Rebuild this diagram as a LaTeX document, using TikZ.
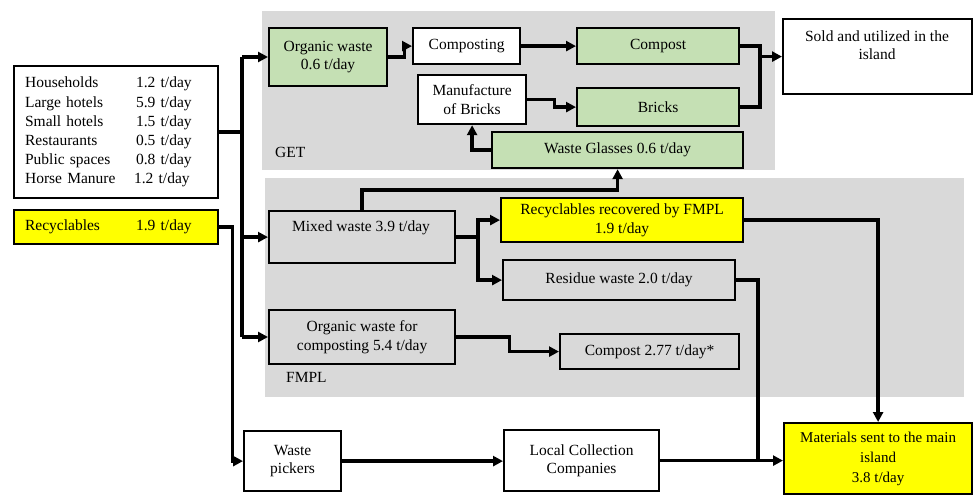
\documentclass[tikz,border=0pt]{standalone}
\usepackage{fontspec}
\setmainfont{Liberation Serif}
\usetikzlibrary{arrows.meta}
\definecolor{grn}{HTML}{C5E0B4}
\definecolor{ylw}{HTML}{FFFF00}
\definecolor{gry}{HTML}{D9D9D9}
\begin{document}
\begin{tikzpicture}[x=1pt,y=-1pt,
  font=\fontsize{15.5}{18.5}\selectfont,
  box/.style={draw, line width=2.2pt, inner sep=2pt, align=center, anchor=north west},
  region/.style={fill=gry, draw=none, inner sep=0pt, anchor=north west},
  ln/.style={line width=3.3pt},
  arr/.style={ln, -{Triangle[length=10pt,width=10pt]}},
  txt/.style={inner sep=0pt, align=center}]
\useasboundingbox (0,0) rectangle (973,495);
% regions
\node[region, minimum width=513pt, minimum height=159pt] (getr) at (262,11) {};
\node[region, minimum width=699pt, minimum height=219pt] (fmplr) at (265,178) {};
\node[txt, anchor=west] (getl) at (275,152) {GET};
\node[txt, anchor=west] (fmpll) at (286,377) {FMPL};
% sources
\node[box, fill=white, minimum height=132pt, text width=182pt, inner xsep=11pt, align=left,
  font=\fontsize{15.5}{19.2}\selectfont] (src) at (13,65)
  {\makebox[111pt][l]{Households}1.2 t/day\\
   \makebox[111pt][l]{Large hotels}5.9 t/day\\
   \makebox[111pt][l]{Small hotels}1.5 t/day\\
   \makebox[111pt][l]{Restaurants}0.5 t/day\\
   \makebox[111pt][l]{Public spaces}0.8 t/day\\
   \makebox[109pt][l]{Horse Manure}1.2 t/day};
\node[box, fill=ylw, minimum height=34pt, text width=182pt, inner xsep=11pt, align=left] (rec) at (13,209)
  {\makebox[111pt][l]{Recyclables}1.9 t/day};
% GET boxes
\node[box, fill=grn, minimum width=118pt, minimum height=58pt] (orgG) at (268,27) {Organic waste\\0.6 t/day};
\node[box, fill=white, minimum width=107pt, minimum height=36pt] (comp) at (412,27) {Composting};
\node[box, fill=grn, minimum width=162pt, minimum height=36pt] (compost) at (576,27) {Compost};
\node[box, fill=white, minimum width=108pt, minimum height=49pt] (man) at (417,74) {Manufacture\\of Bricks};
\node[box, fill=grn, minimum width=162pt, minimum height=38pt] (bricks) at (576,87) {Bricks};
\node[box, fill=grn, minimum width=251pt, minimum height=36pt] (glass) at (491,131) {Waste Glasses 0.6 t/day};
\node[box, fill=white, minimum width=189pt, minimum height=75pt] (sold) at (782,18) {};
\node[txt] (soldt) at (877,45) {Sold and utilized in the\\island};
% FMPL boxes
\node[box, minimum width=186pt, minimum height=52pt] (mixed) at (268,210) {};
\node[txt] (mixedt) at (361,228) {Mixed waste 3.9 t/day};
\node[box, fill=ylw, minimum width=242pt, minimum height=44pt] (rrec) at (500,197) {Recyclables recovered by FMPL\\1.9 t/day};
\node[box, minimum width=232pt, minimum height=40pt] (res) at (502,259) {Residue waste 2.0 t/day};
\node[box, minimum width=186pt, minimum height=54pt] (orgF) at (268,309) {Organic waste for\\composting 5.4 t/day};
\node[box, minimum width=179pt, minimum height=35pt] (cmp2) at (559,333) {Compost 2.77 t/day*};
% bottom
\node[box, fill=white, minimum width=97pt, minimum height=60pt] (wp) at (243,430) {Waste\\pickers};
\node[box, fill=white, minimum width=155pt, minimum height=61pt] (lcc) at (503,429) {Local Collection\\Companies};
\node[box, fill=ylw, minimum width=188pt, minimum height=71pt, font=\fontsize{15}{20}\selectfont] (mat) at (783,422) {Materials sent to the main\\island\\3.8 t/day};
% coordinates
\coordinate (tr1) at (242,57);
\coordinate (tr2) at (242,337);
\coordinate (mj) at (478,0);
\coordinate (gy) at (0,190);
\coordinate (sj) at (760,0);
\coordinate (jx) at (758,0);
% connectors
\draw[ln] (tr1) -- (tr2);
\draw[ln] (src.east) -- (src.east -| tr1);
\draw[arr] (tr1) -- (orgG.west |- tr1);
\draw[arr] (mixed.west -| tr1) -- (mixed.west);
\draw[arr] (tr2) -- (orgF.west |- tr2);
\draw[arr] (rec.east) -- ++(13,0) |- (wp.west);
\draw[arr] (orgG.east) -- ++(16,0) |- (comp.west);
\draw[arr] (comp.east) -- (compost.west);
\draw[arr] (man.east) -- ++(27,0) |- (bricks.west);
\draw[arr] (glass.west) -| (man.south);
\draw[ln] (compost.east) -| (bricks.east -| sj) -- (bricks.east);
\draw[arr] (sold.west -| sj) -- (sold.west);
\draw[arr] (mixed.north) -- (mixed.north |- gy) -| (glass.south);
\draw[ln] (mixed.east) -- (mixed.east -| mj);
\draw[arr] (mixed.east -| mj) |- (rrec.west);
\draw[arr] (mixed.east -| mj) |- (res.west);
\draw[arr] (orgF.east) -- ++(53,0) |- (cmp2.west);
\draw[arr] (rrec.east) -| (mat.north);
\draw[ln] (res.east) -| (lcc.east -| jx);
\draw[arr] (wp.east) -- (wp.east -| lcc.west);
\draw[arr] (lcc.east) -- (lcc.east -| mat.west);
\end{tikzpicture}
\end{document}
